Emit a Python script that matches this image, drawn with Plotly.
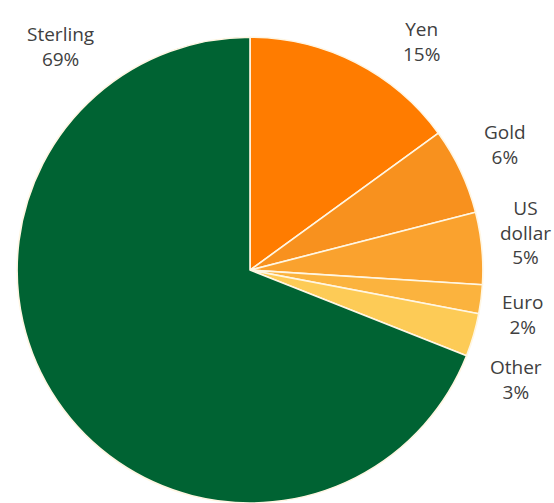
import plotly.graph_objects as go

labels = ["Yen", "Gold", "US dollar", "Euro", "Other", "Sterling"]
values = [15, 6, 5, 2, 3, 69]
colors = ["#FF7C00", "#F8911E", "#FAA22E", "#FBB33E", "#FDCB56", "#006333"]
label_text = ["Yen<br>15%", "Gold<br>6%", "US<br>dollar<br>5%", "Euro<br>2%", "Other<br>3%", "Sterling<br>69%"]
# label centre positions in pixels (x, y from top)
label_pos = [(422, 42), (505, 144), (525, 232), (522, 314), (516, 379), (60, 47)]

W, H = 554, 503

fig = go.Figure(go.Pie(
    labels=labels,
    values=values,
    sort=False,
    direction="clockwise",
    rotation=0,
    marker=dict(colors=colors, line=dict(color="#FFF6E3", width=1.6)),
    textinfo="none",
    hoverinfo="label+percent",
    domain=dict(x=[17 / W, 483 / W], y=[0, 0.926]),
    showlegend=False,
))

for txt, (px, py) in zip(label_text, label_pos):
    fig.add_annotation(
        text=txt, x=px / W, y=1 - py / H, xref="paper", yref="paper",
        showarrow=False, xanchor="center", yanchor="middle",
        font=dict(family="Open Sans", size=19, color="#404040"),
    )

fig.update_layout(
    width=W, height=H,
    margin=dict(l=0, r=0, t=0, b=0),
    paper_bgcolor="white",
    plot_bgcolor="white",
)

fig.write_html("out.html")
